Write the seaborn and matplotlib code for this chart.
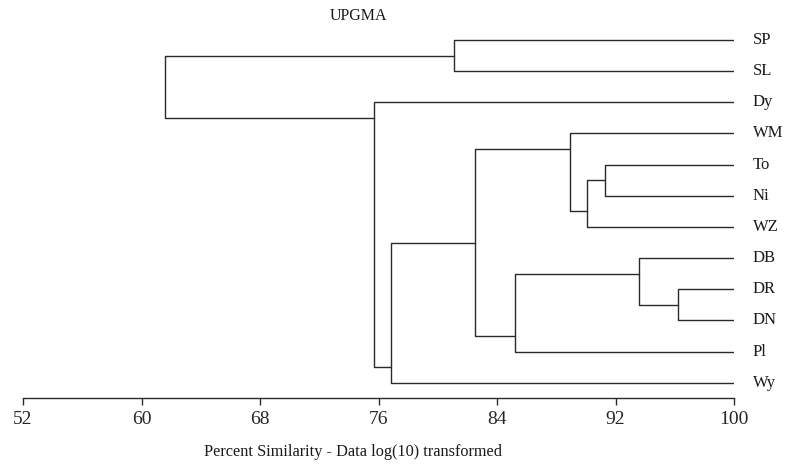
import matplotlib
matplotlib.use("Agg")
import matplotlib.pyplot as plt
import seaborn as sns
import pandas as pd

# ---- data ----
leaves = ["SP", "SL", "Dy", "WM", "To", "Ni", "WZ", "DB", "DR", "DN", "Pl", "Wy"]
# merges: node ids 0..11 are leaves, 12.. are clusters in creation order
merge_a = [0, 4, 13, 3, 8, 7, 17, 15, 19, 2, 12]
merge_b = [1, 5, 6, 14, 9, 16, 10, 18, 11, 20, 21]
merge_sim = [81.1, 91.3, 90.1, 88.9, 96.2, 93.6, 85.2, 82.5, 76.85, 75.7, 61.6]
x_ticks = [52, 60, 68, 76, 84, 92, 100]

sns.set_style("ticks")
plt.rcParams["font.family"] = ["Liberation Serif", "DejaVu Serif"]

n = len(leaves)
first = {i: i for i in range(n)}
last = {i: i for i in range(n)}
ypos = {i: float(i) for i in range(n)}
xpos = {i: 100.0 for i in range(n)}
rows = []
for k, (a, b, s) in enumerate(zip(merge_a, merge_b, merge_sim)):
    node = n + k
    first[node] = first[a]
    last[node] = last[b]
    ypos[node] = (last[a] + first[b]) / 2.0
    xpos[node] = s
    pts = [(xpos[a], ypos[a]), (s, ypos[a]), (s, ypos[b]), (xpos[b], ypos[b])]
    for j, (px, py) in enumerate(pts):
        rows.append({"x": px, "y": py, "seg": k, "order": j})
df = pd.DataFrame(rows)

fig = plt.figure(figsize=(7.85, 4.66), dpi=100)
ax = fig.add_axes([23 / 785, 1 - 398 / 466, (734 - 23) / 785, (398 - 25) / 466])

sns.lineplot(data=df, x="x", y="y", units="seg", estimator=None, sort=False,
             color="#2a2a2a", linewidth=1.0, ax=ax, legend=False)

ax.set_xlim(52, 100)
ax.set_ylim(11 + 15.3 / 31.22, -15 / 31.22)
ax.set_xticks(x_ticks)
ax.set_xticklabels([str(t) for t in x_ticks], fontsize=14)
ax.tick_params(axis="x", direction="out", length=5, width=1, color="#2a2a2a", pad=4)
ax.set_yticks([])
ax.set_xlabel("")
ax.set_ylabel("")
for side in ["top", "right", "left"]:
    ax.spines[side].set_visible(False)
ax.spines["bottom"].set_color("#2a2a2a")
ax.spines["bottom"].set_linewidth(1.0)

for i, lab in enumerate(leaves):
    ax.text(101.25, i, lab, fontsize=12, va="center", ha="left", clip_on=False,
            color="#1a1a1a")

fig.text(358 / 785, 1 - 16 / 466, "UPGMA", fontsize=11.5, ha="center", va="center",
         color="#1a1a1a")
fig.text(353 / 785, 1 - 452 / 466, "Percent Similarity - Data log(10) transformed",
         fontsize=11.7, ha="center", va="center", color="#1a1a1a")

fig.savefig("out.png", dpi=100, facecolor="white")
